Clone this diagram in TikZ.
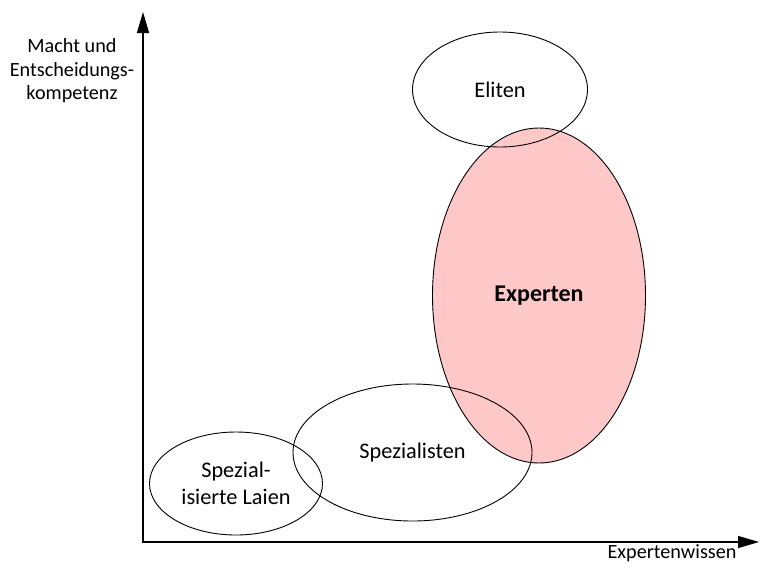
\documentclass[tikz,border=0pt]{standalone}
\usepackage{fontspec}
\setmainfont{Carlito}
\usepackage{tikz}
\usetikzlibrary{shapes, arrows.meta, positioning}
\definecolor{expertrot}{RGB}{255,200,200}

\begin{document}
\begin{tikzpicture}[x=1pt, y=-1pt, font=\fontsize{20.2}{23.5}\selectfont]
        \useasboundingbox (0,0) rectangle (760,563);
        \tikzset{
            gruppe/.style={ellipse, draw, line width=0.9pt, inner sep=0pt, align=center, font=\fontsize{22.3}{27.2}\selectfont},
            achse/.style={line width=1.4pt, {Triangle[length=21pt, width=12pt]}-{Triangle[length=21pt, width=12pt]}}
        }

        % --- Achsen ---
        \coordinate (O) at (143,542);
        \coordinate (ytop) at (143,12);
        \coordinate (xend) at (759,542);
        \draw[achse] (ytop) -- (O) -- (xend);
        \node[align=center] (ylab) at (72,71) {Macht und\\Entscheidungs-\\kompetenz};
        \node (xlab) at (672,553) {Expertenwissen};

        % --- Gruppen ---
        \node[gruppe, fill=expertrot, minimum width=213pt, minimum height=335pt, font=\fontsize{24}{28}\selectfont\bfseries] (experten) at (539,295.5) {Experten};
        \node[gruppe, minimum width=175pt, minimum height=115pt] (eliten) at (500,89.5) {Eliten};
        \node[gruppe, minimum width=239pt, minimum height=137pt] (spezialisten) at (412.5,452.5) {Spezialisten};
        \node[gruppe, minimum width=173pt, minimum height=103pt] (laien) at (236,483.5) {Spezial-\\isierte Laien};

    \end{tikzpicture}
\end{document}
